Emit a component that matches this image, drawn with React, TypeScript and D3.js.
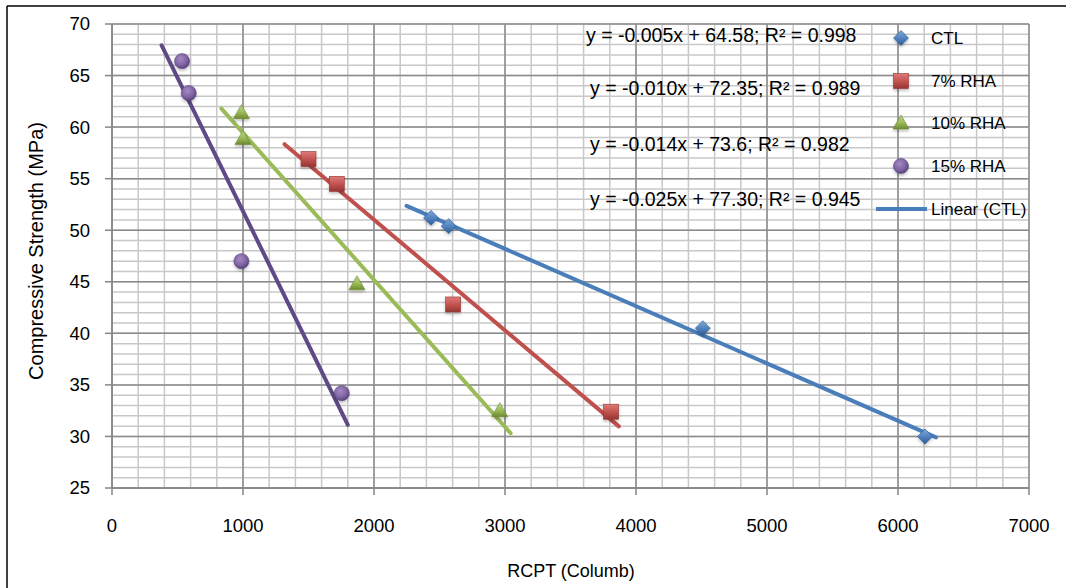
import React from 'react';
import * as d3 from 'd3';

// ---------- DATA ----------
const seriesNames = ['CTL', '7% RHA', '10% RHA', '15% RHA'];
const ctlX = [2435, 2570, 4510, 6206];
const ctlY = [51.2, 50.4, 40.5, 30.0];
const rha7X = [1500, 1716, 2604, 3810];
const rha7Y = [56.9, 54.5, 42.8, 32.4];
const rha10X = [988, 1000, 1870, 2960];
const rha10Y = [61.4, 58.9, 44.8, 32.5];
const rha15X = [535, 586, 988, 1754];
const rha15Y = [66.4, 63.3, 47.0, 34.2];
// x-extent over which each linear trendline is drawn
const trendFrom = [2249, 1317, 835, 378];
const trendTo = [6290, 3869, 3043, 1800];
const equations = [
  'y = -0.005x + 64.58; R² = 0.998',
  'y = -0.010x + 72.35; R² = 0.989',
  'y = -0.014x + 73.6; R² = 0.982',
  'y = -0.025x + 77.30; R² = 0.945',
];
const xTicks = [0, 1000, 2000, 3000, 4000, 5000, 6000, 7000];
const yTicks = [25, 30, 35, 40, 45, 50, 55, 60, 65, 70];
const xTitle = 'RCPT (Columb)';
const yTitle = 'Compressive Strength (MPa)';
const legendLine = 'Linear (CTL)';

// ---------- STYLE ----------
const colors = ['#4f81bd', '#c0504d', '#9bbb59', '#8064a2'];
const darkColors = ['#2c5a94', '#943634', '#6b8a30', '#553f78'];
const lightColors = ['#7ea6d8', '#de7a77', '#bdd88a', '#a48ac4'];
const trendColors = ['#4a7ebb', '#c0504d', '#9bbb59', '#5f4987'];
const FONT = '"Liberation Sans", Arial, sans-serif';

const W = 1066, H = 588;
const L = 112, R = 1029, T = 24, B = 488;

const xs = d3.scaleLinear().domain([0, 7000]).range([L, R]);
const ys = d3.scaleLinear().domain([25, 70]).range([B, T]);

function linFit(x: number[], y: number[]) {
  const mx = d3.mean(x)!, my = d3.mean(y)!;
  let sxy = 0, sxx = 0;
  x.forEach((v, i) => { sxy += (v - mx) * (y[i] - my); sxx += (v - mx) ** 2; });
  const m = sxy / sxx;
  return { m, b: my - m * mx };
}

function Marker({ kind, cx, cy, s = 1 }: { kind: number; cx: number; cy: number; s?: number }) {
  const fill = `url(#grad${kind})`;
  const stroke = darkColors[kind];
  if (kind === 0) {
    const r = 7.5 * s;
    const p = `M${cx},${cy - r}L${cx + r},${cy}L${cx},${cy + r}L${cx - r},${cy}Z`;
    return <path d={p} fill={fill} stroke={stroke} strokeWidth={0.6} filter="url(#shadow)" />;
  }
  if (kind === 1) {
    const r = 7.5 * s;
    return <rect x={cx - r} y={cy - r} width={2 * r} height={2 * r} fill={fill} stroke={stroke} strokeWidth={0.6} filter="url(#shadow)" />;
  }
  if (kind === 2) {
    const r = 8 * s;
    const p = `M${cx},${cy - r}L${cx + r},${cy + r * 0.75}L${cx - r},${cy + r * 0.75}Z`;
    return <path d={p} fill={fill} stroke={stroke} strokeWidth={0.6} filter="url(#shadow)" />;
  }
  return <circle cx={cx} cy={cy} r={7.5 * s} fill={`url(#rgrad3)`} stroke={stroke} strokeWidth={0.6} filter="url(#shadow)" />;
}

export default function App() {
  const xsData = [ctlX, rha7X, rha10X, rha15X];
  const ysData = [ctlY, rha7Y, rha10Y, rha15Y];
  const fits = xsData.map((x, i) => linFit(x, ysData[i]));

  const minorX = d3.range(0, 7001, 200);
  const minorY = d3.range(25, 70.001, 1);
  const line = d3.line<[number, number]>().x(d => xs(d[0])).y(d => ys(d[1]));

  const eqPos = [[586, 42], [590, 95], [590, 151], [590, 206]];
  const legY = [38, 81, 123, 166];

  return (
    <div style={{ position: 'fixed', left: 0, top: 0 }}>
      <svg width={W} height={H} style={{ display: 'block', background: '#fff' }}>
        <defs>
          {colors.map((c, i) => (
            <linearGradient key={i} id={`grad${i}`} x1="0" y1="0" x2="0" y2="1">
              <stop offset="0%" stopColor={lightColors[i]} />
              <stop offset="55%" stopColor={c} />
              <stop offset="100%" stopColor={darkColors[i]} />
            </linearGradient>
          ))}
          <radialGradient id="rgrad3" cx="40%" cy="35%" r="70%">
            <stop offset="0%" stopColor={lightColors[3]} />
            <stop offset="60%" stopColor={colors[3]} />
            <stop offset="100%" stopColor={darkColors[3]} />
          </radialGradient>
          <filter id="shadow" x="-50%" y="-50%" width="200%" height="200%">
            <feDropShadow dx="0" dy="2" stdDeviation="1.6" floodColor="#000" floodOpacity="0.25" />
          </filter>
        </defs>
        <rect x={0} y={0} width={W} height={H} fill="#fff" />
        {/* outer border */}
        <line x1={7} y1={6} x2={W} y2={6} stroke="#000" strokeWidth={1.5} />
        <line x1={7} y1={6} x2={7} y2={H} stroke="#000" strokeWidth={1.5} />

        {/* minor grid */}
        {minorX.map(v => (
          <line key={'mx' + v} x1={xs(v)} x2={xs(v)} y1={T} y2={B} stroke="#c8c8c8" strokeWidth={1.5} />
        ))}
        {minorY.map(v => (
          <line key={'my' + v} x1={L} x2={R} y1={ys(v)} y2={ys(v)} stroke="#c8c8c8" strokeWidth={1.5} />
        ))}
        {/* major grid */}
        {xTicks.map(v => (
          <line key={'Mx' + v} x1={xs(v)} x2={xs(v)} y1={T} y2={B} stroke="#8c8c8c" strokeWidth={1.5} />
        ))}
        {yTicks.map(v => (
          <line key={'My' + v} x1={L} x2={R} y1={ys(v)} y2={ys(v)} stroke="#8c8c8c" strokeWidth={1.5} />
        ))}
        {/* axes */}
        <line x1={L} x2={L} y1={T} y2={B} stroke="#868686" strokeWidth={1.5} />
        <line x1={L} x2={R} y1={B} y2={B} stroke="#868686" strokeWidth={1.5} />
        {yTicks.map(v => (
          <line key={'ty' + v} x1={L - 7} x2={L} y1={ys(v)} y2={ys(v)} stroke="#868686" strokeWidth={1.5} />
        ))}
        {xTicks.map(v => (
          <line key={'tx' + v} x1={xs(v)} x2={xs(v)} y1={B} y2={B + 7} stroke="#868686" strokeWidth={1.5} />
        ))}
        {yTicks.map(v => (
          <text key={'ly' + v} x={L - 22} y={ys(v)} dy="0.35em" textAnchor="end" fontFamily={FONT} fontSize={18.5} fill="#000">{v}</text>
        ))}
        {xTicks.map(v => (
          <text key={'lx' + v} x={xs(v)} y={526} dy="0.35em" textAnchor="middle" fontFamily={FONT} fontSize={18.5} fill="#000">{v}</text>
        ))}
        <text x={571} y={577} textAnchor="middle" fontFamily={FONT} fontSize={18} fill="#000">{xTitle}</text>
        <text transform={`translate(43,251) rotate(-90)`} textAnchor="middle" fontFamily={FONT} fontSize={20} fill="#000">{yTitle}</text>

        {/* trendlines */}
        {fits.map((f, i) => (
          <path key={'tr' + i}
            d={line([[trendFrom[i], f.m * trendFrom[i] + f.b], [trendTo[i], f.m * trendTo[i] + f.b]])!}
            stroke={trendColors[i]} strokeWidth={4} fill="none" strokeLinecap="round" />
        ))}
        {/* markers */}
        {xsData.map((xArr, i) => xArr.map((x, j) => (
          <Marker key={`m${i}-${j}`} kind={i} cx={xs(x)} cy={ys(ysData[i][j])} />
        )))}

        {/* equations */}
        {equations.map((e, i) => (
          <text key={'eq' + i} x={eqPos[i][0]} y={eqPos[i][1]} fontFamily={FONT} fontSize={19.5} fill="#000">{e}</text>
        ))}

        {/* legend */}
        {seriesNames.map((n, i) => (
          <g key={'lg' + i}>
            <Marker kind={i} cx={901} cy={legY[i]} />
            <text x={931} y={legY[i]} dy="0.35em" fontFamily={FONT} fontSize={17} fill="#000">{n}</text>
          </g>
        ))}
        <line x1={876} x2={927} y1={209} y2={209} stroke={trendColors[0]} strokeWidth={4} />
        <text x={931} y={209} dy="0.35em" fontFamily={FONT} fontSize={17} fill="#000">{legendLine}</text>
      </svg>
    </div>
  );
}
